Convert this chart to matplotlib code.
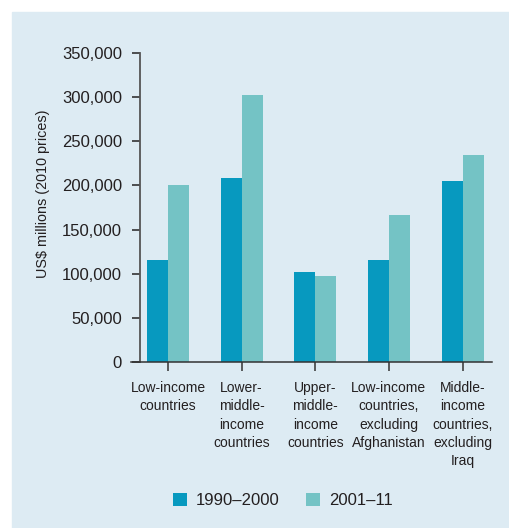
import matplotlib.pyplot as plt
from matplotlib.patches import Rectangle
import numpy as np

categories = ["Low-income\ncountries", "Lower-\nmiddle-\nincome\ncountries",
              "Upper-\nmiddle-\nincome\ncountries",
              "Low-income\ncountries,\nexcluding\nAfghanistan",
              "Middle-\nincome\ncountries,\nexcluding\nIraq"]
series_1990 = [116000, 208000, 101500, 115000, 205500]
series_2001 = [200000, 302500, 97000, 166000, 235000]
yticks = [0, 50000, 100000, 150000, 200000, 250000, 300000, 350000]

dark = "#0799bf"
light = "#74c3c5"
bg = "#ddebf3"
txt = "#231f20"

plt.rcParams["font.family"] = ["Liberation Sans", "DejaVu Sans"]

fig = plt.figure(figsize=(5.1, 5.28), dpi=100)
fig.patches.append(Rectangle((12 / 510, 0), 498 / 510, 516 / 528,
                             transform=fig.transFigure, color=bg, zorder=-5))

ax = fig.add_axes([131 / 510, 166 / 528, 361 / 510, 309 / 528])
ax.set_facecolor("none")

x = np.arange(len(categories))
w = 0.285
ax.bar(x - w, series_1990, w, align="edge", color=dark, label="1990\u20132000")
ax.bar(x, series_2001, w, align="edge", color=light, label="2001\u201311")

ax.set_xlim(-0.503, 4.40)
ax.set_ylim(0, 350000)

ax.spines["top"].set_visible(False)
ax.spines["right"].set_visible(False)
ax.spines["left"].set_position(("data", -0.38))
ax.spines["left"].set_color("#555555")
ax.spines["left"].set_linewidth(1.3)
ax.spines["bottom"].set_color("#333333")
ax.spines["bottom"].set_linewidth(1.1)
ax.tick_params(axis="y", length=6, width=1.2, color="#333333", pad=7,
               labelsize=12, labelcolor=txt)
ax.tick_params(axis="x", length=6.5, width=1.1, color="#333333", pad=7,
               labelsize=10, labelcolor=txt)

ax.set_yticks(yticks)
ax.set_yticklabels([f"{v:,}" for v in yticks], fontsize=12)
ax.set_xticks(x)
ax.set_xticklabels(categories, fontsize=10, linespacing=1.4)

fig.text(43 / 510, 334 / 528, "US$ millions (2010 prices)", rotation=90,
         ha="center", va="center", fontsize=10.4, color=txt)

fig.legend(loc="center", bbox_to_anchor=(283 / 510, 0.052), ncol=2,
           frameon=False, fontsize=12, handlelength=0.83, handleheight=0.78,
           handletextpad=0.55, columnspacing=1.6, labelcolor=txt)

plt.savefig("out.png", dpi=100)
